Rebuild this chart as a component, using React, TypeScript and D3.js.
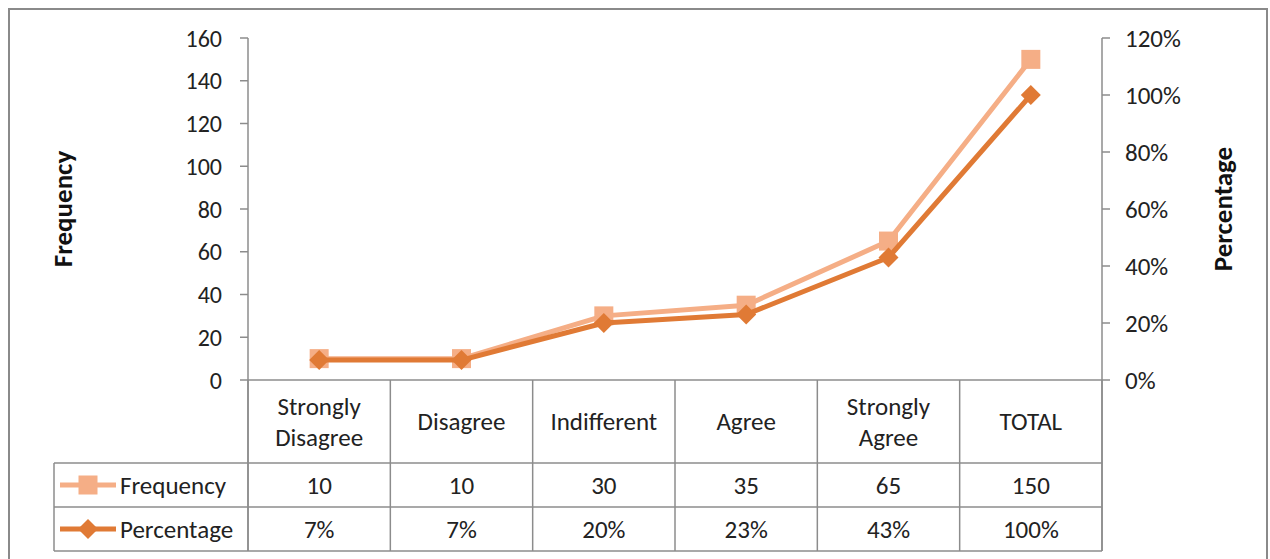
import React from "react";
import * as d3 from "d3";

const categories: string[][] = [
  ["Strongly", "Disagree"],
  ["Disagree"],
  ["Indifferent"],
  ["Agree"],
  ["Strongly", "Agree"],
  ["TOTAL"],
];
const frequency: number[] = [10, 10, 30, 35, 65, 150];
const percentage: number[] = [0.07, 0.07, 0.2, 0.23, 0.43, 1.0];
const leftTicks: number[] = [0, 20, 40, 60, 80, 100, 120, 140, 160];
const rightTicks: number[] = [0, 0.2, 0.4, 0.6, 0.8, 1.0, 1.2];
const seriesNames: string[] = ["Frequency", "Percentage"];

const W = 1270;
const H = 559;
const FONT = "Carlito, Calibri, Lato, 'Open Sans', sans-serif";
const FREQ_COLOR = "#F5AE86";
const PCT_COLOR = "#E07A35";
const GRID = "#8C8C8C";
const FS = 25;

export default function App() {
  const x0 = 248;
  const x1 = 1102;
  const yTop = 38;
  const yBot = 380;
  const row1 = 463;
  const row2 = 507;
  const row3 = 551;
  const tableLeft = 54;

  const x = d3
    .scaleBand<number>()
    .domain(categories.map((_, i) => i))
    .range([x0, x1]);
  const yL = d3.scaleLinear().domain([0, 160]).range([yBot, yTop]);
  const yR = d3.scaleLinear().domain([0, 1.2]).range([yBot, yTop]);
  const cx = (i: number) => (x(i) as number) + x.bandwidth() / 2;

  const freqLine = d3
    .line<number>()
    .x((_, i) => cx(i))
    .y((d) => yL(d));
  const pctLine = d3
    .line<number>()
    .x((_, i) => cx(i))
    .y((d) => yR(d));

  const pctFmt = d3.format(".0%");
  const boundaries = categories.map((_, i) => x(i) as number).concat([x1]);

  const square = (px: number, py: number, s: number, color: string, key?: any) => (
    <rect key={key} x={px - s / 2} y={py - s / 2} width={s} height={s} fill={color} />
  );
  const diamond = (px: number, py: number, r: number, color: string, key?: any) => (
    <path
      key={key}
      d={`M${px},${py - r}L${px + r},${py}L${px},${py + r}L${px - r},${py}Z`}
      fill={color}
    />
  );

  return (
    <svg
      width={W}
      height={H}
      style={{ position: "absolute", left: 0, top: 0, background: "#fff" }}
      fontFamily={FONT}
    >
      <rect x={9} y={9} width={1258} height={560} fill="#fff" stroke="#8a8a8a" strokeWidth={2} />

      {/* left axis */}
      <line x1={x0} x2={x0} y1={yTop} y2={row3} stroke={GRID} strokeWidth={1.5} />
      {leftTicks.map((t) => (
        <g key={"l" + t}>
          <line x1={x0 - 8} x2={x0} y1={yL(t)} y2={yL(t)} stroke={GRID} strokeWidth={1.5} />
          <text x={222} y={yL(t)} dy="0.36em" textAnchor="end" fontSize={FS - 1} fill="#222">
            {t}
          </text>
        </g>
      ))}
      {/* right axis */}
      <line x1={x1} x2={x1} y1={yTop} y2={row3} stroke={GRID} strokeWidth={1.5} />
      {rightTicks.map((t) => (
        <g key={"r" + t}>
          <line x1={x1} x2={x1 + 8} y1={yR(t)} y2={yR(t)} stroke={GRID} strokeWidth={1.5} />
          <text x={1125} y={yR(t)} dy="0.36em" textAnchor="start" fontSize={FS} fill="#222">
            {pctFmt(t)}
          </text>
        </g>
      ))}

      {/* axis titles */}
      <text
        transform={`translate(63,209) rotate(-90)`}
        textAnchor="middle"
        dy="0.35em"
        fontSize={27}
        fontWeight="bold"
        fill="#111"
      >
        Frequency
      </text>
      <text
        transform={`translate(1223,209) rotate(-90)`}
        textAnchor="middle"
        dy="0.35em"
        fontSize={27}
        fontWeight="bold"
        fill="#111"
      >
        Percentage
      </text>

      {/* data table */}
      <line x1={x0} x2={x1} y1={yBot} y2={yBot} stroke={GRID} strokeWidth={1.5} />
      {[row1, row2, row3].map((r) => (
        <line key={"h" + r} x1={tableLeft} x2={x1} y1={r} y2={r} stroke={GRID} strokeWidth={1.5} />
      ))}
      <line x1={tableLeft} x2={tableLeft} y1={row1} y2={row3} stroke={GRID} strokeWidth={1.5} />
      {boundaries.map((b, i) => (
        <line key={"v" + i} x1={b} x2={b} y1={yBot} y2={row3} stroke={GRID} strokeWidth={1.5} />
      ))}
      {categories.map((lines, i) => (
        <text key={"c" + i} x={cx(i)} textAnchor="middle" fontSize={FS} fill="#222">
          {lines.map((ln, j) => (
            <tspan
              key={j}
              x={cx(i)}
              y={(yBot + row1) / 2 + (j - (lines.length - 1) / 2) * 31}
              dy="0.35em"
            >
              {ln}
            </tspan>
          ))}
        </text>
      ))}
      {frequency.map((v, i) => (
        <text key={"fv" + i} x={cx(i)} y={(row1 + row2) / 2} dy="0.36em" textAnchor="middle" fontSize={FS} fill="#222">
          {v}
        </text>
      ))}
      {percentage.map((v, i) => (
        <text key={"pv" + i} x={cx(i)} y={(row2 + row3) / 2} dy="0.36em" textAnchor="middle" fontSize={FS} fill="#222">
          {pctFmt(v)}
        </text>
      ))}

      {/* legend keys */}
      <line x1={60} x2={116} y1={(row1 + row2) / 2} y2={(row1 + row2) / 2} stroke={FREQ_COLOR} strokeWidth={5} />
      {square(88, (row1 + row2) / 2, 19, FREQ_COLOR)}
      <text x={120} y={(row1 + row2) / 2} dy="0.36em" fontSize={FS} fill="#222">
        {seriesNames[0]}
      </text>
      <line x1={60} x2={116} y1={(row2 + row3) / 2} y2={(row2 + row3) / 2} stroke={PCT_COLOR} strokeWidth={5} />
      {diamond(88, (row2 + row3) / 2, 10, PCT_COLOR)}
      <text x={120} y={(row2 + row3) / 2} dy="0.36em" fontSize={FS} fill="#222">
        {seriesNames[1]}
      </text>

      {/* series */}
      <path d={freqLine(frequency) || ""} fill="none" stroke={FREQ_COLOR} strokeWidth={5} strokeLinejoin="round" />
      {frequency.map((v, i) => square(cx(i), yL(v), 19, FREQ_COLOR, "fs" + i))}
      <path d={pctLine(percentage) || ""} fill="none" stroke={PCT_COLOR} strokeWidth={5} strokeLinejoin="round" />
      {percentage.map((v, i) => diamond(cx(i), yR(v), 10, PCT_COLOR, "pd" + i))}
    </svg>
  );
}
